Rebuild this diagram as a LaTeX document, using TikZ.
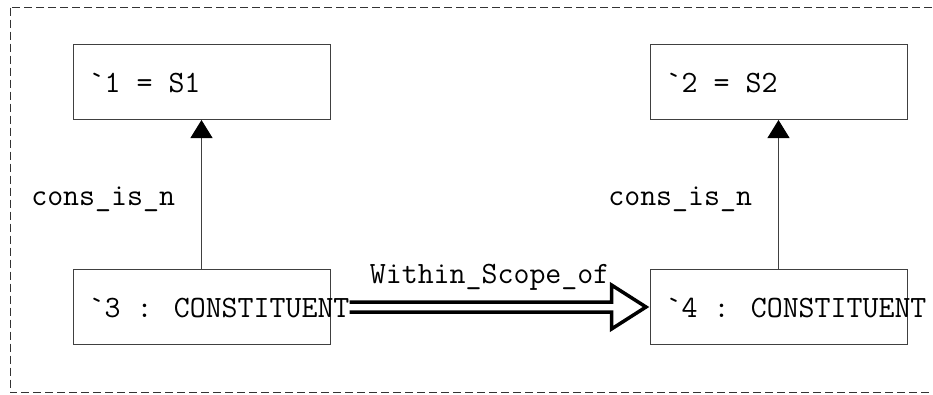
\documentclass[tikz,border=0pt]{standalone}
\usepackage{fontspec}
\usetikzlibrary{arrows.meta, positioning}

\tikzset{
  box/.style={draw=black!75, line width=1pt, minimum width=257pt, minimum height=75pt, inner sep=0pt},
  boxtext/.style={anchor=base west, inner sep=0pt, xshift=16pt, yshift=-10.5pt},
  link/.style={draw=black!75, line width=1pt, -{Triangle[width=22pt,length=18pt,black]}},
  scopearrow/.style={line width=3.5pt, line join=miter},
}

\begin{document}
\begin{tikzpicture}[x=1pt, y=-1pt, every node/.style={font=\fontsize{31}{36}\selectfont\ttfamily}]
    \useasboundingbox (0,0) rectangle (933,394);
    \draw[black!80, line width=1pt, dash pattern=on 8pt off 4pt] (10,7.5) rectangle (950,392.5);

    % objects
    \node[box] (b1) at (201.5,82) {};
    \node[box, right=319pt of b1] (b2) {};
    \node[box, below=149pt of b1] (b3) {};
    \node[box, right=319pt of b3] (b4) {};

    \node[boxtext] (t1) at (b1.west) {`1 = S1};
    \node[boxtext] (t2) at (b2.west) {`2 = S2};
    \node[boxtext] (t3) at (b3.west) {`3 : CONSTITUENT};
    \node[boxtext] (t4) at (b4.west) {`4 : CONSTITUENT};

    % cons_is_n links
    \draw[link] (b3) -- node[pos=0.425, anchor=base east, inner sep=0pt, xshift=-26pt] (l1) {cons\_is\_n} (b1);
    \draw[link] (b4) -- node[pos=0.425, anchor=base east, inner sep=0pt, xshift=-26pt] (l2) {cons\_is\_n} (b2);

    % scope arrow
    \coordinate (s) at (t3.east |- b4.west);
    \coordinate (tip) at ([xshift=-3.5pt]b4.west);
    \coordinate (h) at ([xshift=-38pt]b4.west);
    \draw[scopearrow] ([yshift=5pt]s) -- ([yshift=5pt]h) -- ([yshift=22pt]h) -- (tip)
      -- ([yshift=-22pt]h) -- ([yshift=-5pt]h) -- ([yshift=-5pt]s);
    \node[anchor=base west, inner sep=0pt] (w) at ([xshift=20pt, yshift=34pt]t3.base east) {Within\_Scope\_of};
\end{tikzpicture}
\end{document}
